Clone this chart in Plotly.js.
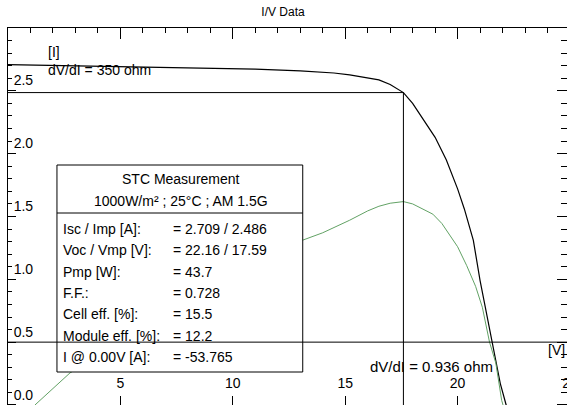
<!DOCTYPE html>
<html>
<head>
<meta charset="utf-8">
<script src="https://cdn.plot.ly/plotly-3.0.1.min.js"></script>
<style>
html,body{margin:0;padding:0;overflow:hidden;background:#fff;}
#chart{width:580px;height:415px;}
</style>
</head>
<body>
<div id="chart"></div>
<script>
// I-V curve (voltage V, current A)
const ivVoltage = [0, 1, 2, 4, 6, 8.5, 11, 13, 14.5, 15.2, 16, 16.5, 17, 17.3, 17.59, 18, 18.4, 19.0, 19.5, 20.0, 20.3, 20.7, 21.0, 21.3, 21.6, 21.9, 22.16, 22.4];
const ivCurrent = [2.709, 2.706, 2.703, 2.697, 2.692, 2.685, 2.672, 2.659, 2.642, 2.627, 2.605, 2.587, 2.55, 2.515, 2.486, 2.40, 2.29, 2.13, 1.95, 1.72, 1.56, 1.31, 0.99, 0.72, 0.46, 0.17, 0.0, -0.25];
// P-V curve (voltage V, power W)
const pvVoltage = [1.2, 2.0, 2.76, 4, 6, 8, 10, 12, 13.1, 14, 15.2, 16, 16.5, 17, 17.59, 18, 18.5, 18.9, 19.3, 19.64, 20.0, 20.4, 20.8, 21.1, 21.42, 21.7, 21.96, 22.2];
const pvPower   = [0, 3.5, 6.9, 10.3, 15.8, 21.4, 26.9, 32.4, 35.4, 37.0, 39.7, 41.7, 42.7, 43.35, 43.7, 43.2, 42.0, 41.0, 39.0, 36.5, 34.0, 30.0, 25.5, 21.0, 13.5, 9.0, 1.0, -3.0];
// Maximum power point
const vmp = 17.59, imp = 2.486;
// Axis ticks
const xTickVals = [5, 10, 15, 20, 25];
const yTickVals = [0, 0.5, 1.0, 1.5, 2.0, 2.5];
const blankX = ['', '', '', '', ''];
const blankY = ['', '', '', '', '', ''];
// Table text
const tableHead = ["STC Measurement", "1000W/m² ; 25°C ; AM 1.5G"];
const tableLabels = ["Isc / Imp [A]:", "Voc / Vmp [V]:", "Pmp [W]:", "F.F.:", "Cell eff. [%]:", "Module eff. [%]:", "I @ 0.00V [A]:"];
const tableValues = ["= 2.709 / 2.486", "= 22.16 / 17.59", "= 43.7", "= 0.728", "= 15.5", "= 12.2", "= -53.765"];

const FONT = "Liberation Sans, Arial, sans-serif";
const X_RANGE = [0, 25];
const Y_RANGE = [-0.04, 3.0];

const traces = [
  {x: pvVoltage, y: pvPower, type: 'scatter', mode: 'lines', xaxis: 'x', yaxis: 'y3',
   line: {color: '#62a265', width: 1}, hoverinfo: 'skip'},
  {x: ivVoltage, y: ivCurrent, type: 'scatter', mode: 'lines', xaxis: 'x', yaxis: 'y',
   line: {color: '#000', width: 1.2}, hoverinfo: 'skip'},
  {x: [X_RANGE[0]], y: [Y_RANGE[0]], xaxis: 'x2', yaxis: 'y2', mode: 'markers', marker: {opacity: 0}, hoverinfo: 'skip'},
  {x: [X_RANGE[0]], y: [Y_RANGE[0]], xaxis: 'x3', yaxis: 'y4', mode: 'markers', marker: {opacity: 0}, hoverinfo: 'skip'}
];

const pxToPaperX = px => (px - 8) / 562.5;
const pxToPaperY = py => (410 - py) / 382;

const annotations = [];
const tf = {family: FONT, size: 14, color: '#000'};
const addText = (px, py, text, anchor, font) => annotations.push({
  xref: 'paper', yref: 'paper', x: pxToPaperX(px), y: pxToPaperY(py), text: text,
  showarrow: false, xanchor: anchor, yanchor: 'middle', font: font || tf});
addText(181, 179, tableHead[0], 'center');
addText(181, 201, tableHead[1], 'center');
tableLabels.forEach((t, i) => {
  const py = 229 + i * 21.3;
  addText(61, py, t, 'left');
  addText(171, py, tableValues[i], 'left');
});
addText(46, 52, '[I]', 'left');
addText(46, 70, 'dV/dI = 350 ohm', 'left');
addText(567, 350, '[V]', 'right');
addText(432, 366, 'dV/dI = 0.936 ohm', 'center', {family: FONT, size: 15, color: '#000'});

const shapes = [
  {type:'line', xref:'x', yref:'y', x0: 0, x1: vmp, y0: imp, y1: imp, line:{color:'#000', width:1}},
  {type:'line', xref:'x', yref:'y', x0: vmp, x1: vmp, y0: imp, y1: Y_RANGE[0], line:{color:'#000', width:1}},
  {type:'rect', xref:'paper', yref:'paper', x0: pxToPaperX(57), x1: pxToPaperX(303), y0: pxToPaperY(372), y1: pxToPaperY(165),
   fillcolor:'#fff', line:{color:'#000', width:1}, layer:'above'},
  {type:'line', xref:'paper', yref:'paper', x0: pxToPaperX(57), x1: pxToPaperX(303), y0: pxToPaperY(213), y1: pxToPaperY(213),
   line:{color:'#000', width:1}, layer:'above'},
  {type:'line', xref:'x', yref:'y', x0: X_RANGE[0], x1: X_RANGE[1], y0: 0.5, y1: 0.5, line:{color:'#000', width:1}, layer:'above'}
];

const tickFont = {family: FONT, size: 14, color: '#000'};
const layout = {
  width: 580, height: 415,
  margin: {l: 8, r: 9.5, t: 28, b: 5, pad: 0},
  paper_bgcolor: '#fff', plot_bgcolor: '#fff',
  showlegend: false,
  font: {family: FONT, size: 14, color: '#000'},
  title: {text: 'I/V Data', x: 283/580, xanchor: 'center', y: 1 - 12/415, yanchor: 'middle',
          font: {family: FONT, size: 12, color: '#000'}},
  xaxis: {range: X_RANGE, visible: false},
  yaxis: {range: Y_RANGE, visible: false},
  yaxis3: {range: [-1.08, 81], overlaying: 'y', visible: false},
  xaxis2: {range: X_RANGE, overlaying: 'x', side: 'bottom', anchor: 'y2', showgrid: false, zeroline: false,
           showline: true, linecolor: '#000', linewidth: 1,
           tickmode: 'array', tickvals: xTickVals, ticks: 'inside', ticklen: 14, tickcolor: '#000', tickwidth: 1,
           ticklabelposition: 'inside', ticklabelstandoff: 5, ticklabeloverflow: 'allow', tickfont: tickFont,
           minor: {dtick: 1, tick0: 0, ticks: 'inside', ticklen: 5, tickcolor: '#555', showgrid: false}},
  yaxis2: {range: Y_RANGE, overlaying: 'y', side: 'left', anchor: 'x2', showgrid: false, zeroline: false,
           showline: true, linecolor: '#000', linewidth: 1,
           tickmode: 'array', tickvals: yTickVals, tickformat: '.1f', ticks: 'inside', ticklen: 8, tickcolor: '#000', tickwidth: 1,
           ticklabelposition: 'inside top', ticklabelstandoff: 5, ticklabeloverflow: 'allow', tickfont: tickFont,
           minor: {dtick: 0.1, tick0: 0, ticks: 'inside', ticklen: 4, tickcolor: '#000', showgrid: false}},
  xaxis3: {range: X_RANGE, overlaying: 'x', side: 'top', anchor: 'y4', showgrid: false, zeroline: false,
           showline: true, linecolor: '#000', linewidth: 1,
           tickmode: 'array', tickvals: xTickVals, ticktext: blankX, ticks: 'inside', ticklen: 11, tickcolor: '#000', tickwidth: 1,
           showticklabels: true, ticklabelposition: 'inside', ticklabeloverflow: 'allow', tickfont: tickFont,
           minor: {dtick: 1, tick0: 0, ticks: 'inside', ticklen: 5, tickcolor: '#000', showgrid: false}},
  yaxis4: {range: Y_RANGE, overlaying: 'y', side: 'right', anchor: 'x3', showgrid: false, zeroline: false,
           showline: true, linecolor: '#000', linewidth: 1,
           tickmode: 'array', tickvals: yTickVals, ticktext: blankY, ticks: 'inside', ticklen: 13, tickcolor: '#000', tickwidth: 1,
           showticklabels: true, ticklabelposition: 'inside', ticklabeloverflow: 'allow', tickfont: tickFont,
           minor: {dtick: 0.1, tick0: 0, ticks: 'inside', ticklen: 9, tickcolor: '#000', showgrid: false}},
  shapes: shapes,
  annotations: annotations
};

Plotly.newPlot('chart', traces, layout, {displayModeBar: false, staticPlot: true});
</script>
</body>
</html>
